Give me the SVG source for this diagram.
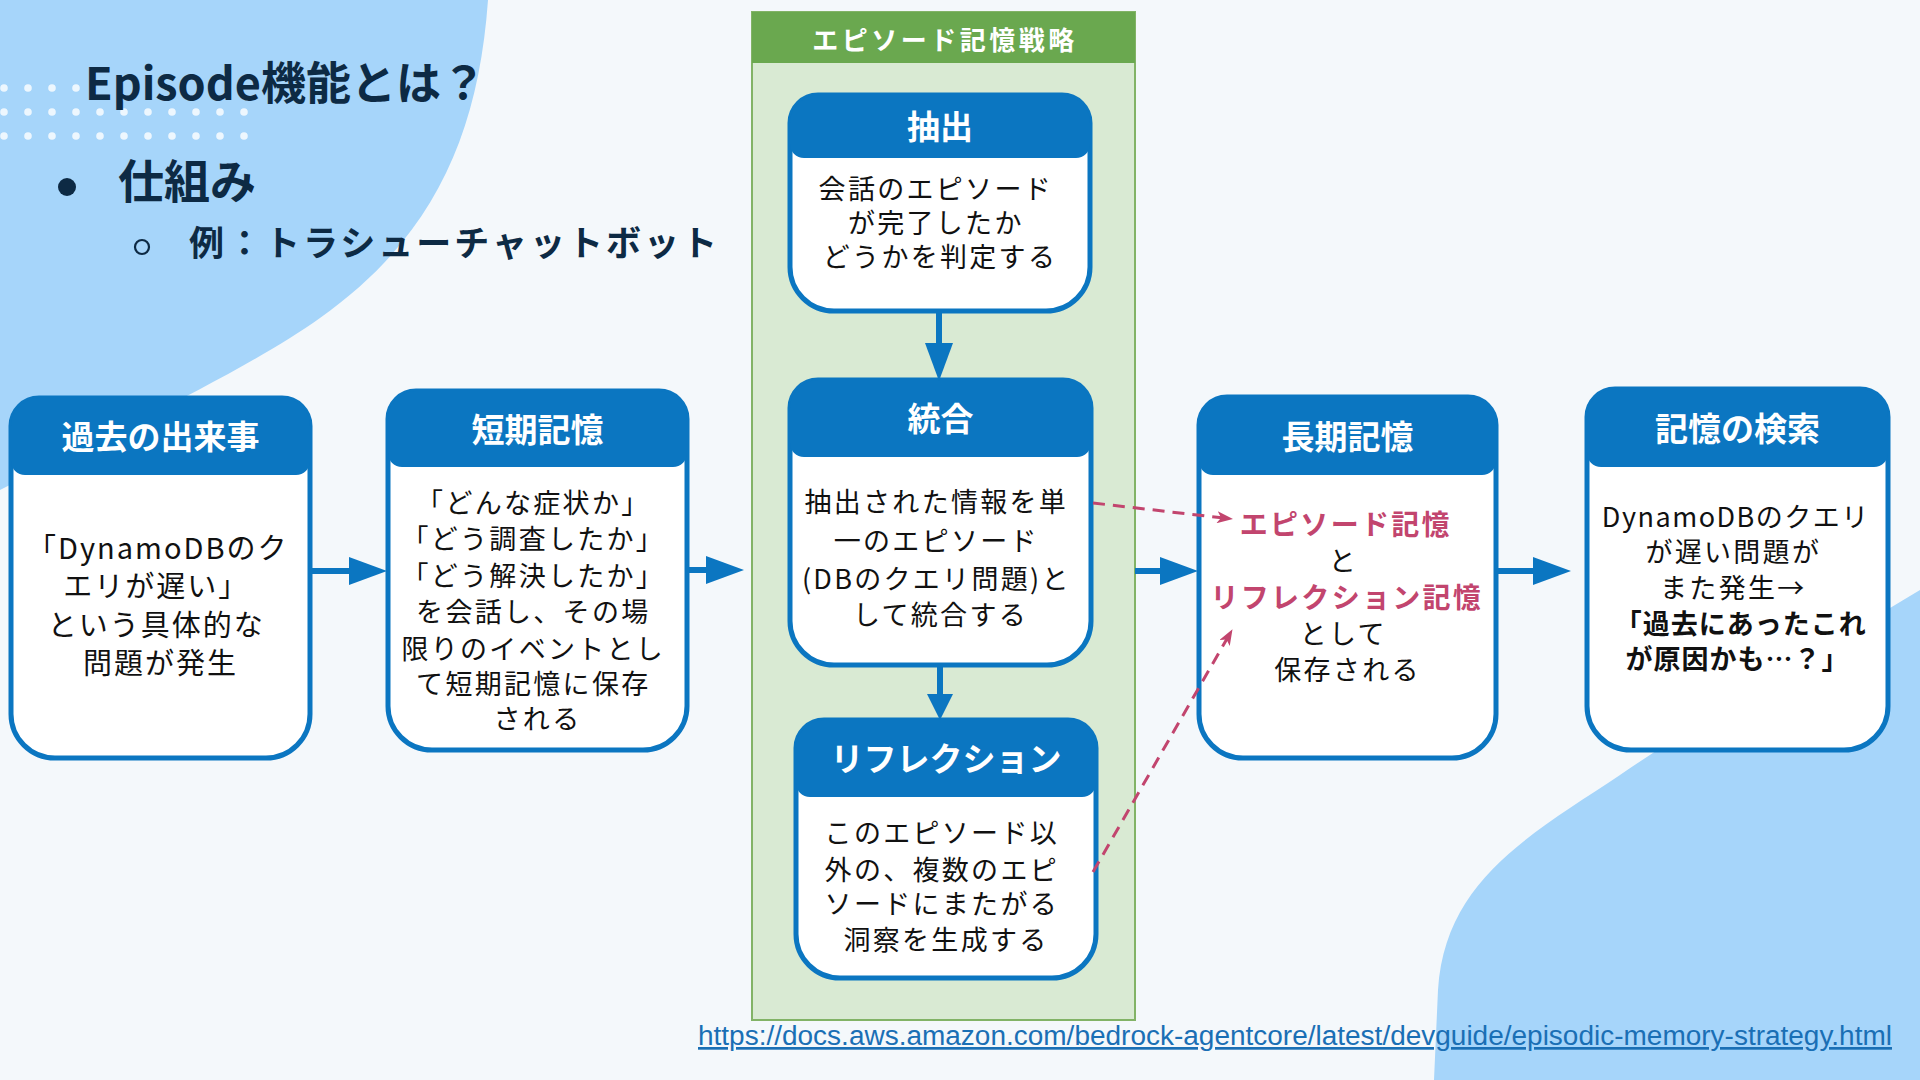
<svg xmlns="http://www.w3.org/2000/svg" width="1920" height="1080" viewBox="0 0 1920 1080">
  <style>
    .title { font-family: "Noto Sans CJK JP", "Noto Sans", sans-serif; font-weight: bold; fill: #0d2a44; }
    .box { fill: #ffffff; stroke: #0b76c1; stroke-width: 5; }
    .hd { fill: #0b76c1; }
    .hdr { font-family: "Noto Sans CJK JP", "Noto Sans", sans-serif; font-weight: bold; font-size: 33px; fill: #ffffff; text-anchor: middle; }
    .body { font-family: "Noto Sans CJK JP", "Noto Sans", sans-serif; font-size: 27px; fill: #111111; text-anchor: middle; letter-spacing: 2.3px; }
    .pink { fill: #c2456e; font-weight: bold; }
    .bold { font-weight: bold; }
    .flow { stroke: #0b76c1; stroke-width: 6; fill: none; }
    .dash { stroke: #c2456e; stroke-width: 3; fill: none; stroke-dasharray: 12 8; }
    .dot { fill: #ffffff; opacity: 0.8; }
  </style>
  <defs>
    <marker id="ah" viewBox="0 0 38 28" refX="0" refY="14" markerWidth="38" markerHeight="28" markerUnits="userSpaceOnUse" orient="auto">
      <path d="M0,0 L38,14 L0,28 Z" fill="#0b76c1"/>
    </marker>
    <marker id="ahs" viewBox="0 0 26 26" refX="0" refY="13" markerWidth="26" markerHeight="26" markerUnits="userSpaceOnUse" orient="auto">
      <path d="M0,0 L26,13 L0,26 Z" fill="#0b76c1"/>
    </marker>
    <marker id="pk" viewBox="0 0 16 12" refX="15" refY="6" markerWidth="16" markerHeight="12" markerUnits="userSpaceOnUse" orient="auto">
      <path d="M0,0 L16,6 L0,12 L4,6 Z" fill="#c2456e"/>
    </marker>
  </defs>

  <!-- background -->
  <rect x="0" y="0" width="1920" height="1080" fill="#f4f8fb"/>
  <path d="M0,0 H488 C478,140 430,240 320,318 C250,368 120,430 0,490 Z" fill="#a6d5fa"/>
  <path d="M1920,590 C1820,650 1700,720 1620,775 C1530,835 1445,880 1438,990 L1434,1080 H1920 Z" fill="#a6d5fa"/>

  <!-- dots -->
  <g id="dots">
    <circle class="dot" cx="4" cy="88" r="3.8"/><circle class="dot" cx="28" cy="88" r="3.8"/><circle class="dot" cx="52" cy="88" r="3.8"/><circle class="dot" cx="76" cy="88" r="3.8"/>
    <circle class="dot" cx="4" cy="112" r="3.8"/><circle class="dot" cx="28" cy="112" r="3.8"/><circle class="dot" cx="52" cy="112" r="3.8"/><circle class="dot" cx="76" cy="112" r="3.8"/><circle class="dot" cx="100" cy="112" r="3.8"/><circle class="dot" cx="124" cy="112" r="3.8"/><circle class="dot" cx="148" cy="112" r="3.8"/><circle class="dot" cx="172" cy="112" r="3.8"/><circle class="dot" cx="196" cy="112" r="3.8"/><circle class="dot" cx="220" cy="112" r="3.8"/><circle class="dot" cx="244" cy="112" r="3.8"/>
    <circle class="dot" cx="4" cy="136" r="3.8"/><circle class="dot" cx="28" cy="136" r="3.8"/><circle class="dot" cx="52" cy="136" r="3.8"/><circle class="dot" cx="76" cy="136" r="3.8"/><circle class="dot" cx="100" cy="136" r="3.8"/><circle class="dot" cx="124" cy="136" r="3.8"/><circle class="dot" cx="148" cy="136" r="3.8"/><circle class="dot" cx="172" cy="136" r="3.8"/><circle class="dot" cx="196" cy="136" r="3.8"/><circle class="dot" cx="220" cy="136" r="3.8"/><circle class="dot" cx="244" cy="136" r="3.8"/>
  </g>

  <!-- titles -->
  <g id="heading">
    <text class="title" x="85" y="100" font-size="45">Episode機能とは？</text>
    <circle cx="67" cy="187" r="9" fill="#0d2a44"/>
    <text class="title" x="118" y="198" font-size="46">仕組み</text>
    <circle cx="142" cy="247" r="7" fill="none" stroke="#0d2a44" stroke-width="2.2"/>
    <text class="title" x="189" y="256" font-size="35" letter-spacing="3">例：トラシューチャットボット</text>
  </g>

  <!-- strategy container -->
  <g id="strategy">
    <rect x="752" y="12" width="383" height="1008" fill="#d9ead3" stroke="#82b366" stroke-width="2"/>
    <rect x="752" y="12" width="383" height="51" fill="#6aa84f"/>
    <text class="hdr" x="945" y="50" style="font-size:26px; letter-spacing:3.5px">エピソード記憶戦略</text>
  </g>

  <!-- node: 過去の出来事 -->
  <g id="node-past">
    <path class="box" d="M39,398 H282 A28,28 0 0 1 310,426 V714 A44,44 0 0 1 266,758 H55 A44,44 0 0 1 11,714 V426 A28,28 0 0 1 39,398 Z"/>
    <path class="hd" d="M11,461 V426 A28,28 0 0 1 39,398 H282 A28,28 0 0 1 310,426 V461 A14,14 0 0 1 296,475 H25 A14,14 0 0 1 11,461 Z"/>
    <text class="hdr" x="160.5" y="449">過去の出来事</text>
    <text class="body" style="font-size:29px; letter-spacing:2px">
      <tspan x="162" y="559">「DynamoDBのク</tspan>
      <tspan x="160.5" y="597">エリが遅い」</tspan>
      <tspan x="160.5" y="636">という具体的な</tspan>
      <tspan x="160.5" y="674">問題が発生</tspan>
    </text>
  </g>

  <!-- node: 短期記憶 -->
  <g id="node-short">
    <path class="box" d="M416,391 H659 A28,28 0 0 1 687,419 V706 A44,44 0 0 1 643,750 H432 A44,44 0 0 1 388,706 V419 A28,28 0 0 1 416,391 Z"/>
    <path class="hd" d="M388,453 V419 A28,28 0 0 1 416,391 H659 A28,28 0 0 1 687,419 V453 A14,14 0 0 1 673,467 H402 A14,14 0 0 1 388,453 Z"/>
    <text class="hdr" x="537.5" y="441.5">短期記憶</text>
    <text class="body">
      <tspan x="537.5" y="513">「どんな症状か」</tspan>
      <tspan x="537.5" y="549">「どう調査したか」</tspan>
      <tspan x="537.5" y="586">「どう解決したか」</tspan>
      <tspan x="537.5" y="622">を会話し、その場</tspan>
      <tspan x="537.5" y="659">限りのイベントとし</tspan>
      <tspan x="537.5" y="694">て短期記憶に保存</tspan>
      <tspan x="537.5" y="729">される</tspan>
    </text>
  </g>

  <!-- node: 抽出 -->
  <g id="node-extract">
    <path class="box" d="M818,95 H1062 A28,28 0 0 1 1090,123 V267 A44,44 0 0 1 1046,311 H834 A44,44 0 0 1 790,267 V123 A28,28 0 0 1 818,95 Z"/>
    <path class="hd" d="M790,144 V123 A28,28 0 0 1 818,95 H1062 A28,28 0 0 1 1090,123 V144 A14,14 0 0 1 1076,158 H804 A14,14 0 0 1 790,144 Z"/>
    <text class="hdr" x="940" y="139">抽出</text>
    <text class="body">
      <tspan x="940" y="199">会話のエピソード</tspan>
      <tspan x="940" y="233">が完了したか</tspan>
      <tspan x="940" y="267">どうかを判定する</tspan>
    </text>
  </g>

  <!-- node: 統合 -->
  <g id="node-integrate">
    <path class="box" d="M818,380 H1063 A28,28 0 0 1 1091,408 V621 A44,44 0 0 1 1047,665 H834 A44,44 0 0 1 790,621 V408 A28,28 0 0 1 818,380 Z"/>
    <path class="hd" d="M790,443 V408 A28,28 0 0 1 818,380 H1063 A28,28 0 0 1 1091,408 V443 A14,14 0 0 1 1077,457 H804 A14,14 0 0 1 790,443 Z"/>
    <text class="hdr" x="940.5" y="431">統合</text>
    <text class="body">
      <tspan x="940.5" y="512">抽出された情報を単</tspan>
      <tspan x="940.5" y="551">一のエピソード</tspan>
      <tspan x="940.5" y="589">(DBのクエリ問題)と</tspan>
      <tspan x="940.5" y="625">して統合する</tspan>
    </text>
  </g>

  <!-- node: リフレクション -->
  <g id="node-reflection">
    <path class="box" d="M824,720 H1068 A28,28 0 0 1 1096,748 V934 A44,44 0 0 1 1052,978 H840 A44,44 0 0 1 796,934 V748 A28,28 0 0 1 824,720 Z"/>
    <path class="hd" d="M796,783 V748 A28,28 0 0 1 824,720 H1068 A28,28 0 0 1 1096,748 V783 A14,14 0 0 1 1082,797 H810 A14,14 0 0 1 796,783 Z"/>
    <text class="hdr" x="946" y="771">リフレクション</text>
    <text class="body">
      <tspan x="946" y="843">このエピソード以</tspan>
      <tspan x="946" y="880">外の、複数のエピ</tspan>
      <tspan x="946" y="914">ソードにまたがる</tspan>
      <tspan x="946" y="950">洞察を生成する</tspan>
    </text>
  </g>

  <!-- node: 長期記憶 -->
  <g id="node-long">
    <path class="box" d="M1227,397 H1468 A28,28 0 0 1 1496,425 V714 A44,44 0 0 1 1452,758 H1243 A44,44 0 0 1 1199,714 V425 A28,28 0 0 1 1227,397 Z"/>
    <path class="hd" d="M1199,461 V425 A28,28 0 0 1 1227,397 H1468 A28,28 0 0 1 1496,425 V461 A14,14 0 0 1 1482,475 H1213 A14,14 0 0 1 1199,461 Z"/>
    <text class="hdr" x="1347.5" y="448.5">長期記憶</text>
    <text class="body">
      <tspan class="pink" x="1350" y="535" style="font-size:28px">エピソード記憶</tspan>
      <tspan x="1347.5" y="571">と</tspan>
      <tspan class="pink" x="1351" y="608" style="font-size:28px">リフレクション記憶</tspan>
      <tspan x="1347.5" y="644">として</tspan>
      <tspan x="1347.5" y="680">保存される</tspan>
    </text>
  </g>

  <!-- node: 記憶の検索 -->
  <g id="node-search">
    <path class="box" d="M1615,389 H1860 A28,28 0 0 1 1888,417 V706 A44,44 0 0 1 1844,750 H1631 A44,44 0 0 1 1587,706 V417 A28,28 0 0 1 1615,389 Z"/>
    <path class="hd" d="M1587,453 V417 A28,28 0 0 1 1615,389 H1860 A28,28 0 0 1 1888,417 V453 A14,14 0 0 1 1874,467 H1601 A14,14 0 0 1 1587,453 Z"/>
    <text class="hdr" x="1737.5" y="440.5">記憶の検索</text>
    <text class="body">
      <tspan x="1740" y="527" style="letter-spacing:1.5px">DynamoDBのクエリ</tspan>
      <tspan x="1737.5" y="562">が遅い問題が</tspan>
      <tspan x="1737.5" y="598">また発生→</tspan>
      <tspan class="bold" x="1745" y="634" style="letter-spacing:1px">「過去にあったこれ</tspan>
      <tspan class="bold" x="1737.5" y="669" style="letter-spacing:1px">が原因かも…？」</tspan>
    </text>
  </g>

  <!-- connectors -->
  <g id="connectors">
    <line class="flow" x1="310" y1="571" x2="349" y2="571" marker-end="url(#ah)"/>
    <line class="flow" x1="687" y1="570" x2="706" y2="570" marker-end="url(#ah)"/>
    <line class="flow" x1="1135" y1="571" x2="1160" y2="571" marker-end="url(#ah)"/>
    <line class="flow" x1="1496" y1="571" x2="1533" y2="571" marker-end="url(#ah)"/>
    <line class="flow" x1="939" y1="311" x2="939" y2="343" marker-end="url(#ah)"/>
    <line class="flow" x1="940" y1="665" x2="940" y2="694" marker-end="url(#ahs)"/>
    <line class="dash" x1="1093" y1="503" x2="1232" y2="519" marker-end="url(#pk)"/>
    <line class="dash" x1="1093" y1="872" x2="1232" y2="630" marker-end="url(#pk)"/>
  </g>

  <!-- source link -->
  <text x="698" y="1045" font-family="'Liberation Sans', Arial, sans-serif" font-size="27" fill="#1a6fb5" text-decoration="underline" textLength="1194" lengthAdjust="spacingAndGlyphs">https://docs.aws.amazon.com/bedrock-agentcore/latest/devguide/episodic-memory-strategy.html</text>
</svg>
